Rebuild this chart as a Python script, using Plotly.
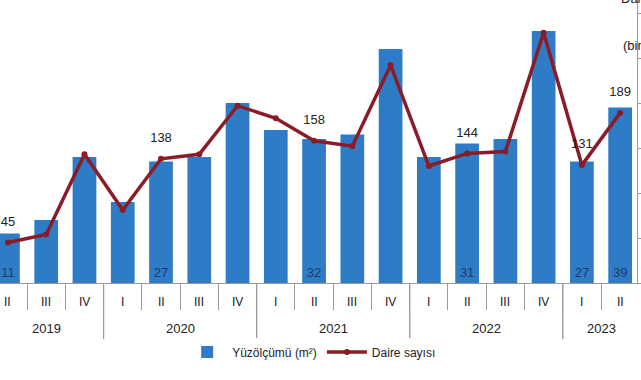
import plotly.graph_objects as go

years = ["2019"] * 3 + ["2020"] * 4 + ["2021"] * 4 + ["2022"] * 4 + ["2023"] * 2
quarters = ["II", "III", "IV", "I", "II", "III", "IV", "I", "II", "III", "IV",
            "I", "II", "III", "IV", "I", "II"]
area = [11, 14, 28, 18, 27, 28, 40, 34, 32, 33, 52, 28, 31, 32, 56, 27, 39]
dwellings = [45, 54, 143, 81, 138, 143, 197, 183, 158, 152, 242, 130, 144, 146, 278, 131, 189]
area_labels = ["11", "", "", "", "27", "", "", "", "32", "", "", "", "31", "", "", "27", "39"]
dwell_labels = ["45", "", "", "", "138", "", "", "", "158", "", "", "", "144", "", "", "131", "189"]

FONT = "Liberation Sans, Arial, sans-serif"
GRAY = "#9a9a9a"
PLOT_H = 283  # plot area height in px (380 - bottom margin)

idx = list(range(len(quarters)))

fig = go.Figure()
fig.add_trace(go.Bar(
    x=idx, y=area, name="Yüzölçümü (m²)",
    marker=dict(color="#2E7CC6", line=dict(width=0)),
    width=0.62,
    text=area_labels, textposition="inside", insidetextanchor="start",
    textangle=0, constraintext="none",
    insidetextfont=dict(color="#1E3A6B", size=13, family=FONT),
    cliponaxis=False,
))
fig.add_trace(go.Scatter(
    x=idx, y=dwellings, name="Daire sayısı", yaxis="y2",
    mode="lines+markers",
    line=dict(color="#8A1C28", width=3.5),
    marker=dict(color="#8A1C28", size=6),
))
fig.add_trace(go.Scatter(
    x=idx, y=dwellings, yaxis="y2", showlegend=False, hoverinfo="skip",
    mode="markers+text", text=dwell_labels, textposition="top center",
    marker=dict(color="rgba(0,0,0,0)", size=20),
    textfont=dict(color="#222", size=13, family=FONT),
    cliponaxis=False,
))

annotations = []
# quarter labels
for i, q in zip(idx, quarters):
    annotations.append(dict(x=i, xref="x", y=0, yref="paper", yshift=-19,
                            text=q, showarrow=False, yanchor="middle",
                            font=dict(size=12, family=FONT, color="#222")))
# year labels and year dividers
shapes = []
uniq_years = []
for y in years:
    if y not in uniq_years:
        uniq_years.append(y)
for yr in uniq_years:
    pos = [i for i in idx if years[i] == yr]
    annotations.append(dict(x=sum(pos) / len(pos), xref="x", y=0, yref="paper", yshift=-45,
                            text=yr, showarrow=False, yanchor="middle",
                            font=dict(size=13, family=FONT, color="#222")))
    for b in (pos[0] - 0.5, pos[-1] + 0.5):
        shapes.append(dict(type="line", xref="x", yref="paper", x0=b, x1=b,
                           y0=0, y1=-56 / PLOT_H, line=dict(color=GRAY, width=1)))

annotations += [
    dict(xref="paper", yref="paper", x=1.0, y=1.0, xanchor="left", yanchor="bottom",
         xshift=-18, yshift=-8, text="Daire sayısı", showarrow=False,
         font=dict(size=13, family=FONT, color="#222")),
    dict(xref="paper", yref="paper", x=1.0, y=1.0, xanchor="left", yanchor="top",
         xshift=-16, yshift=-36, text="(bin)", showarrow=False,
         font=dict(size=13, family=FONT, color="#222")),
]

boundaries = [i - 0.5 for i in idx] + [idx[-1] + 0.5]

fig.update_layout(
    width=641, height=380,
    margin=dict(l=0, r=1, t=0, b=380 - PLOT_H),
    paper_bgcolor="white", plot_bgcolor="white",
    font=dict(family=FONT, size=12, color="#222"),
    showlegend=True,
    legend=dict(orientation="h", x=0.286, xanchor="left", y=-69 / PLOT_H, yanchor="middle",
                font=dict(size=12, family=FONT, color="#222"),
                itemwidth=40, tracegroupgap=0),
    xaxis=dict(
        range=[-0.208, 16.44],
        showline=True, linecolor=GRAY, linewidth=1,
        tickmode="array", tickvals=boundaries, showticklabels=False,
        ticks="outside", ticklen=26, tickcolor=GRAY,
        showgrid=False, zeroline=False,
    ),
    yaxis=dict(range=[0, PLOT_H / 4.5], visible=False, showgrid=False),
    yaxis2=dict(range=[0, PLOT_H / 0.9], overlaying="y", side="right",
                showline=True, linecolor=GRAY, ticks="outside", ticklen=4,
                tickcolor=GRAY, dtick=50, showticklabels=False, showgrid=False,
                zeroline=False),
    annotations=annotations,
    shapes=shapes,
)

fig.write_html("out.html",
               config={"displayModeBar": False},
               post_script="document.body.style.margin='0';document.body.style.overflow='hidden';")
